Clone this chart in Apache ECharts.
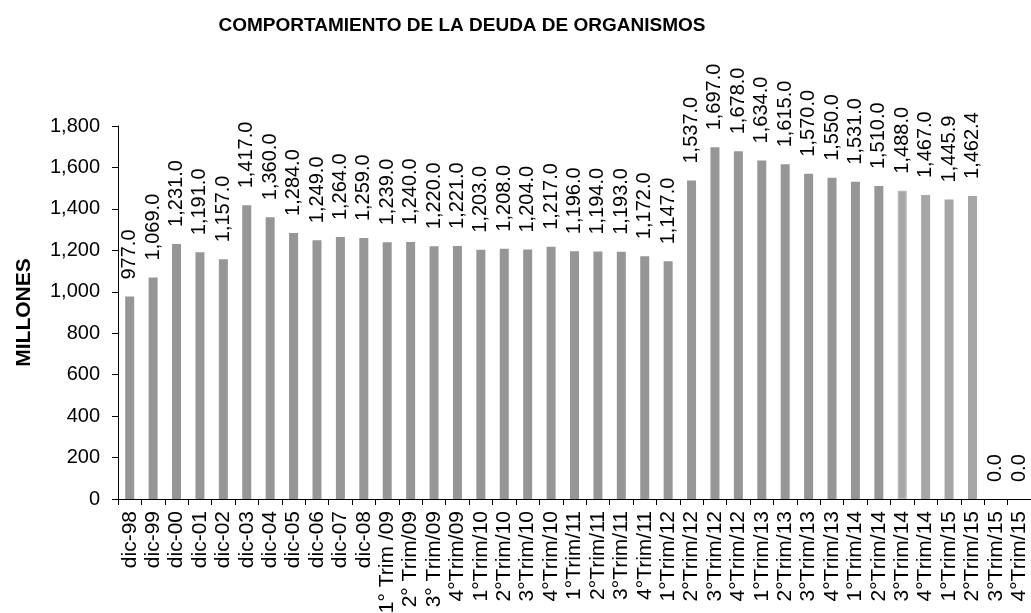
<!DOCTYPE html>
<html>
<head>
<meta charset="utf-8">
<script src="https://cdn.jsdelivr.net/npm/echarts@6/dist/echarts.min.js"></script>
<style>
html,body{margin:0;padding:0;background:#fff;}
#c{width:1031px;height:613px;}
</style>
</head>
<body>
<div id="c"></div>
<script>
const categories = ["dic-98","dic-99","dic-00","dic-01","dic-02","dic-03","dic-04","dic-05","dic-06","dic-07","dic-08",
  "1° Trim /09","2° Trim/09","3° Trim/09","4°Trim/09",
  "1°Trim/10","2°Trim/10","3°Trim/10","4°Trim/10",
  "1°Trim/11","2°Trim/11","3°Trim/11","4°Trim/11",
  "1°Trim/12","2°Trim/12","3°Trim/12","4°Trim/12",
  "1°Trim/13","2°Trim/13","3°Trim/13","4°Trim/13",
  "1°Trim/14","2°Trim/14","3°Trim/14","4°Trim/14",
  "1°Trim/15","2°Trim/15","3°Trim/15","4°Trim/15"];
const values = [977.0,1069.0,1231.0,1191.0,1157.0,1417.0,1360.0,1284.0,1249.0,1264.0,1259.0,
  1239.0,1240.0,1220.0,1221.0,
  1203.0,1208.0,1204.0,1217.0,
  1196.0,1194.0,1193.0,1172.0,
  1147.0,1537.0,1697.0,1678.0,
  1634.0,1615.0,1570.0,1550.0,
  1531.0,1510.0,1488.0,1467.0,
  1445.9,1462.4,0.0,0.0];
const yTicks = [0,200,400,600,800,1000,1200,1400,1600,1800];
const lightBars = ["3°Trim/14","4°Trim/14","1°Trim/15","2°Trim/15"];

const FONT = "Liberation Sans, Arial, sans-serif";
const fmt1 = v => Number(v).toLocaleString('en-US',{minimumFractionDigits:1,maximumFractionDigits:1});
const fmt0 = v => Number(v).toLocaleString('en-US');

const data = values.map((v,i) => {
  const light = lightBars.indexOf(categories[i]) >= 0;
  const o = {value: v};
  if (light) {
    o.itemStyle = {color:'#a6a6a6'};
    if (categories[i] === "3°Trim/14") { o.itemStyle.borderColor = '#b8b8b8'; o.itemStyle.borderWidth = 1.5; }
  }
  return o;
});

const chart = echarts.init(document.getElementById('c'), null, {renderer:'canvas'});
chart.setOption({
  animation:false,
  backgroundColor:'#fff',
  title:{
    text:'COMPORTAMIENTO DE LA DEUDA DE ORGANISMOS',
    left:457, top:11, textAlign:'center',
    textStyle:{fontFamily:FONT, fontSize:19, fontWeight:'bold', color:'#000'}
  },
  grid:{left:118, right:0, top:126, bottom:114, containLabel:false, outerBoundsMode:'none'},
  xAxis:{
    type:'category', data:categories,
    axisLine:{lineStyle:{color:'#000', width:1}},
    axisTick:{show:true, length:6, alignWithLabel:false, lineStyle:{color:'#000'}},
    axisLabel:{rotate:90, interval:0, margin:12, color:'#000', fontFamily:FONT, fontSize:21},
    splitLine:{show:false}
  },
  yAxis:{
    type:'value', min:yTicks[0], max:yTicks[yTicks.length-1], interval:yTicks[1]-yTicks[0],
    name:'MILLONES', nameLocation:'middle', nameRotate:90, nameGap:83,
    nameTextStyle:{fontFamily:FONT, fontSize:21, fontWeight:'bold', color:'#000'},
    axisLine:{show:true, lineStyle:{color:'#000', width:1}},
    axisTick:{show:true, length:6, lineStyle:{color:'#000'}},
    axisLabel:{margin:18, color:'#000', fontFamily:FONT, fontSize:20, formatter:fmt0},
    splitLine:{show:false}
  },
  series:[{
    type:'bar', data:data, barWidth:9,
    itemStyle:{color:'#969696'},
    label:{show:true, position:'top', rotate:90, align:'left', verticalAlign:'middle', distance:17,
      color:'#000', fontFamily:FONT, fontSize:20, formatter:p => fmt1(p.value)}
  }]
});
</script>
</body>
</html>
